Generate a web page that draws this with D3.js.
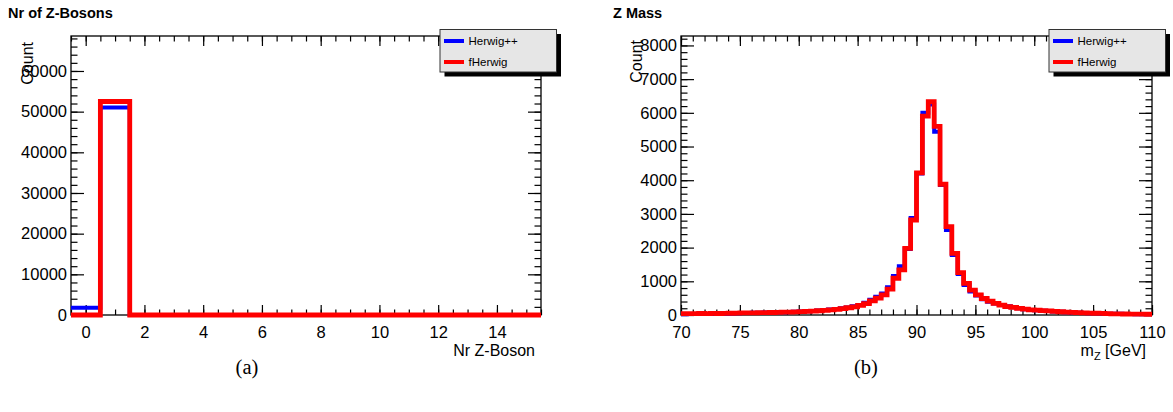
<!DOCTYPE html>
<html>
<head>
<meta charset="utf-8">
<script src="https://cdn.jsdelivr.net/npm/d3@7"></script>
<style>
  html, body { margin: 0; padding: 0; background: #fff; }
  svg { display: block; }
  text { font-family: "Liberation Sans", Arial, sans-serif; fill: #000; }
</style>
</head>
<body>
<svg id="chart" width="1173" height="412"></svg>
<script>
// ---------------- DATA ----------------
const seriesNames = ["Herwig++", "fHerwig"];
const seriesColors = ["#0000ff", "#ff0000"];

// Panel (a): Nr of Z-Bosons, bins centred on integers 0..15
const nrBins = d3.range(0, 16);
const nrHerwigpp = [1800, 51000, 0, 0, 0, 0, 0, 0, 0, 0, 0, 0, 0, 0, 0, 0];
const nrFHerwig  = [0, 52500, 0, 0, 0, 0, 0, 0, 0, 0, 0, 0, 0, 0, 0, 0];
const nrXTicks = [0, 2, 4, 6, 8, 10, 12, 14];
const nrYTicks = [0, 10000, 20000, 30000, 40000, 50000, 60000];

// Panel (b): Z Mass, 0.5 GeV bins from 70 to 110 GeV (low edges)
const massBinLow = d3.range(70, 110, 0.5);
const massHerwigpp = [
  25, 28, 30, 26, 32, 30, 34, 40, 48, 55,
  58, 62, 66, 64, 72, 76, 80, 82, 90, 98,
  104, 110, 118, 130, 145, 160, 178, 200, 225, 262,
  300, 360, 450, 540, 640, 820, 1160, 1450, 1960, 2880,
  4200, 6000, 6250, 5440, 3860, 2520, 1780, 1216, 890, 700,
  580, 470, 395, 340, 300, 258, 230, 200, 170, 152,
  140, 126, 118, 104, 94, 84, 76, 68, 62, 55,
  50, 45, 40, 38, 34, 30, 28, 25, 22, 22
];
const massFHerwig = [
  38, 42, 40, 44, 42, 46, 44, 48, 52, 58,
  62, 64, 66, 68, 70, 74, 78, 84, 88, 94,
  100, 106, 115, 126, 138, 150, 168, 190, 215, 240,
  285, 340, 420, 500, 600, 770, 1090, 1340, 1980, 2820,
  4220, 5900, 6330, 5600, 3880, 2620, 1830, 1260, 940, 740,
  600, 490, 410, 345, 292, 250, 225, 195, 172, 155,
  142, 130, 120, 108, 96, 86, 78, 72, 66, 58,
  52, 46, 40, 36, 32, 30, 28, 26, 24, 22
];
const massXTicks = [70, 75, 80, 85, 90, 95, 100, 105, 110];
const massYTicks = [0, 1000, 2000, 3000, 4000, 5000, 6000, 7000, 8000];

// ---------------- PANELS ----------------
const panels = [
  {
    title: "Nr of Z-Bosons", caption: "(a)", xTitle: "Nr Z-Boson",
    left: 71, right: 541, titleX: 8, captionX: 247,
    xDomain: [-0.5, 15.5], yDomain: [0, 68600], binWidth: 1,
    binLow: nrBins.map(d => d - 0.5),
    series: [nrHerwigpp, nrFHerwig],
    xMajor: nrXTicks, xMinor: d3.range(-0.5, 15.51, 0.5),
    yMajor: nrYTicks, yMinor: d3.range(0, 68001, 2000),
    legendX: 440, countX: 33, countY: 42
  },
  {
    title: "Z Mass", caption: "(b)", xTitle: "mZ",
    left: 681, right: 1152, titleX: 613, captionX: 866,
    xDomain: [70, 110], yDomain: [0, 8280], binWidth: 0.5,
    binLow: massBinLow,
    series: [massHerwigpp, massFHerwig],
    xMajor: massXTicks, xMinor: d3.range(70, 110.01, 1),
    yMajor: massYTicks, yMinor: d3.range(0, 8201, 200),
    legendX: 1049, countX: 642, countY: 40
  }
];

const svg = d3.select("#chart");
svg.append("rect").attr("width", 1173).attr("height", 412).attr("fill", "#fff");

const TOP = 36, BOTTOM = 315;

panels.forEach(p => {
  const g = svg.append("g");
  const x = d3.scaleLinear().domain(p.xDomain).range([p.left, p.right]);
  const y = d3.scaleLinear().domain(p.yDomain).range([BOTTOM, TOP]);

  // title
  g.append("text").attr("x", p.titleX).attr("y", 18)
    .attr("font-size", 14.5).attr("font-weight", "bold").text(p.title);

  // frame
  g.append("rect").attr("x", p.left).attr("y", TOP)
    .attr("width", p.right - p.left).attr("height", BOTTOM - TOP)
    .attr("fill", "none").attr("stroke", "#000").attr("stroke-width", 1.3);

  const styleAxis = sel => {
    sel.select(".domain").remove();
    sel.selectAll("line").attr("stroke", "#000").attr("stroke-width", 1.2);
    sel.selectAll("text").attr("font-family", "Liberation Sans, Arial, sans-serif")
      .attr("font-size", 16.5).attr("fill", "#000");
  };

  // bottom axis
  g.append("g").attr("transform", `translate(0,${BOTTOM})`)
    .call(d3.axisBottom(x).tickValues(p.xMinor).tickSize(-5.5).tickFormat(""))
    .call(styleAxis);
  g.append("g").attr("transform", `translate(0,${BOTTOM})`)
    .call(d3.axisBottom(x).tickValues(p.xMajor).tickSize(-10).tickPadding(10.8).tickFormat(d3.format("d")))
    .call(styleAxis);
  // top axis
  g.append("g").attr("transform", `translate(0,${TOP})`)
    .call(d3.axisTop(x).tickValues(p.xMinor).tickSize(-5.5).tickFormat(""))
    .call(styleAxis);
  g.append("g").attr("transform", `translate(0,${TOP})`)
    .call(d3.axisTop(x).tickValues(p.xMajor).tickSize(-10).tickFormat(""))
    .call(styleAxis);
  // left axis
  g.append("g").attr("transform", `translate(${p.left},0)`)
    .call(d3.axisLeft(y).tickValues(p.yMinor).tickSize(-6.5).tickFormat(""))
    .call(styleAxis);
  g.append("g").attr("transform", `translate(${p.left},0)`)
    .call(d3.axisLeft(y).tickValues(p.yMajor).tickSize(-13).tickPadding(4).tickFormat(d3.format("d")))
    .call(styleAxis);
  // right axis
  g.append("g").attr("transform", `translate(${p.right},0)`)
    .call(d3.axisRight(y).tickValues(p.yMinor).tickSize(-6.5).tickFormat(""))
    .call(styleAxis);
  g.append("g").attr("transform", `translate(${p.right},0)`)
    .call(d3.axisRight(y).tickValues(p.yMajor).tickSize(-13).tickFormat(""))
    .call(styleAxis);

  // histograms
  p.series.forEach((vals, si) => {
    const path = d3.path();
    vals.forEach((v, i) => {
      const x0 = x(p.binLow[i]), x1 = x(p.binLow[i] + p.binWidth);
      if (i === 0) path.moveTo(x0, y(v)); else path.lineTo(x0, y(v));
      path.lineTo(x1, y(v));
    });
    g.append("path").attr("d", path.toString())
      .attr("fill", "none").attr("stroke", seriesColors[si])
      .attr("stroke-width", si === 0 ? 4 : 4.8)
      .attr("stroke-linejoin", "miter").attr("stroke-linecap", "butt");
  });

  // y title
  g.append("text")
    .attr("transform", `translate(${p.countX},${p.countY}) rotate(-90)`)
    .attr("text-anchor", "end").attr("font-size", 16).text("Count");

  // x title
  const xt = g.append("text").attr("x", p.right - 6).attr("y", 356)
    .attr("text-anchor", "end").attr("font-size", 16);
  if (p.xTitle === "mZ") {
    xt.append("tspan").text("m");
    xt.append("tspan").attr("font-size", 11).attr("dy", 4).text("Z");
    xt.append("tspan").attr("dy", -4).text(" [GeV]");
  } else {
    xt.text(p.xTitle);
  }

  // legend
  const lx = p.legendX, ly = 29.5, lw = 116.5, lh = 42.5;
  g.append("rect").attr("x", lx + 4.5).attr("y", ly + 4.5).attr("width", lw).attr("height", lh)
    .attr("fill", "#000");
  g.append("rect").attr("x", lx).attr("y", ly).attr("width", lw).attr("height", lh)
    .attr("fill", "#e6e6e6").attr("stroke", "#333").attr("stroke-width", 1);
  seriesNames.forEach((name, si) => {
    const cy = ly + 11.5 + si * 21;
    g.append("line").attr("x1", lx + 4).attr("x2", lx + 24).attr("y1", cy).attr("y2", cy)
      .attr("stroke", seriesColors[si]).attr("stroke-width", 4);
    g.append("text").attr("x", lx + 28.5).attr("y", cy + 4.3)
      .attr("font-size", 11.5).text(name);
  });

  // caption
  svg.append("text").attr("x", p.captionX).attr("y", 374)
    .attr("text-anchor", "middle")
    .style("font-family", "'Liberation Serif', 'DejaVu Serif', serif")
    .attr("font-size", 20.5).text(p.caption);
});
</script>
</body>
</html>
